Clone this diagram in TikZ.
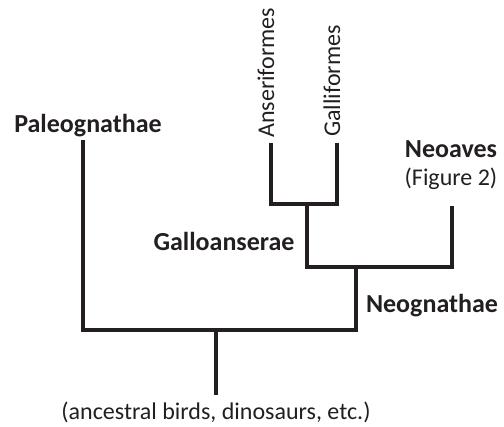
\documentclass[tikz,border=0pt]{standalone}
\usepackage{fontspec}
\setmainfont{Carlito}
\usepackage{tikz}
\usetikzlibrary{positioning}
\definecolor{TreeInk}{HTML}{231F20}
\tikzset{
  figure/.style={x=1pt,y=-1pt,font=\fontsize{24}{28}\selectfont,text=TreeInk},
  branch/.style={draw=TreeInk,line width=3.6pt,line join=miter,line cap=rect},
  clade/.style={font=\fontsize{26}{30}\selectfont\bfseries,inner sep=0pt,anchor=base},
  note/.style={inner sep=0pt,anchor=base},
  taxon/.style={inner sep=0pt,rotate=90,anchor=base west},
}

\begin{document}
\begin{tikzpicture}[figure]
  \useasboundingbox (0,0) rectangle (504,427);

  % tips and branching points
  \coordinate (tipPaleo)   at (83,142);
  \coordinate (tipAnser)   at (271,145);
  \coordinate (tipGalli)   at (337,145);
  \coordinate (tipNeoaves) at (452,208);
  \coordinate (nodeGallo)  at (307,204);
  \coordinate (nodeNeog)   at (356,267);
  \coordinate (nodeAves)   at (216,330);
  \coordinate (root)       at (216,393);

  % the tree
  \draw[branch] (tipPaleo) |- (nodeAves) -| (nodeNeog);
  \draw[branch] (root) -- (nodeAves);
  \draw[branch] (nodeGallo) |- (nodeNeog) -| (tipNeoaves);
  \draw[branch] (tipAnser) |- (nodeGallo) -| (tipGalli);

  % labels
  \node[taxon] (anser) at (274,138) {Anseriformes};
  \node[taxon] (galli) at (340,137) {Galliformes};
  \node[clade] (paleo)   at (88,133)  {Paleognathae};
  \node[clade] (neoaves) at (451,158) {Neoaves};
  \node[note]  (fig2)    at (451,186) {(Figure 2)};
  \node[clade] (gallo)   at (224,251) {Galloanserae};
  \node[clade] (neog)    at (432,313) {Neognathae};
  \node[note]  (ancest)  at (216,420) {(ancestral birds, dinosaurs, etc.)};
\end{tikzpicture}
\end{document}
